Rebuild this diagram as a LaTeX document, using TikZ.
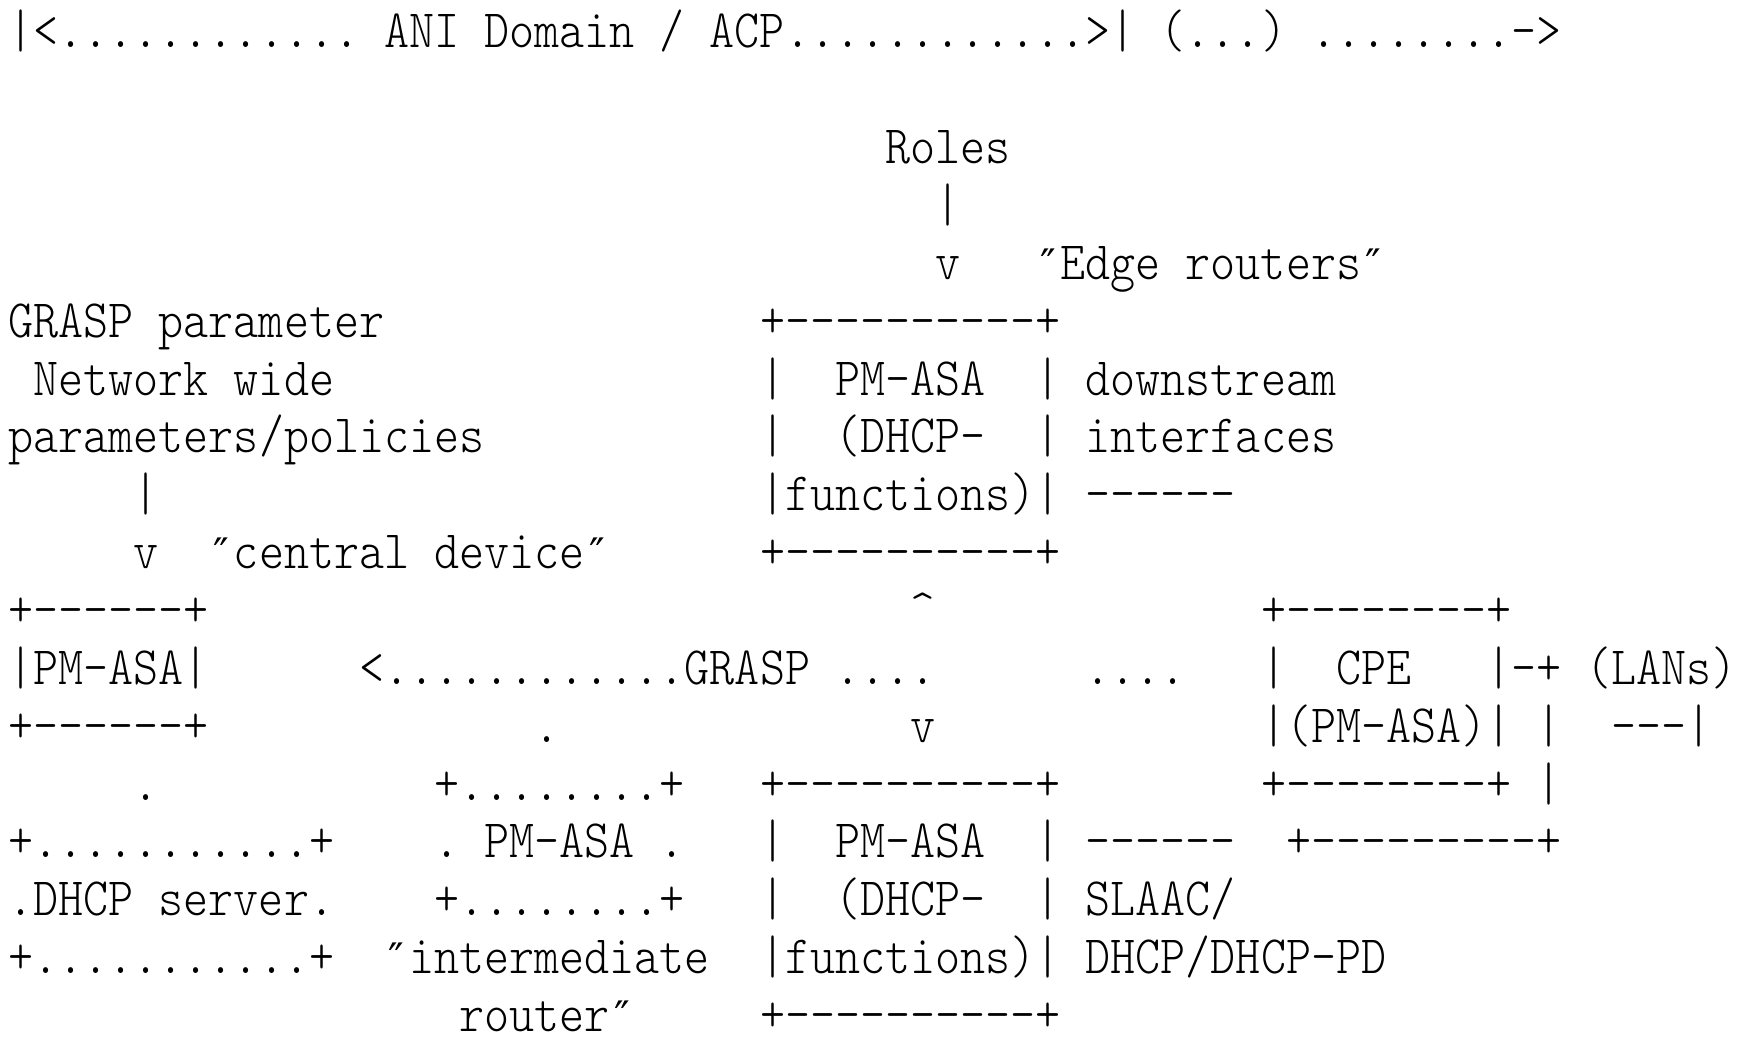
\documentclass[tikz,border=0pt]{standalone}
\usepackage{fontspec}
% narrow light serif typewriter face for the character grid
\newfontfamily\asciifont{lmmonolt10-regular.otf}[FakeStretch=0.8836]
\newfontfamily\qfont{DejaVu Sans}
% one character cell is 25.05pt wide, one line is 57.85pt high
\newcommand\txtat[4]{\node[txt] (#1) at ({8.5+25.05*(#2)},{48+57.85*(#3)}) {#4};}
\newcommand\qtat[3]{\node[txt] (#1) at ({8.5+25.05*(#2)},{48+57.85*(#3)}) {\makebox[25.05pt][c]{\qfont\fontsize{42}{50}\selectfont ″}};}
\tikzset{
  txt/.style={anchor=base west, inner sep=0pt, outer sep=0pt, text depth=0pt,
    font=\asciifont\fontsize{54}{60}\selectfont\frenchspacing}
}
\begin{document}
\begin{tikzpicture}[x=1pt,y=-1pt]
\fill[white] (0,0) rectangle (1743,1041);
\useasboundingbox (0,0) rectangle (1743,1041);

% domain banner
\txtat{ban}{0}{0}{|<............ ANI Domain / ACP............>|}
\txtat{banb}{46}{0}{(...)}
\txtat{banc}{52}{0}{........->}

% roles feeding the edge router
\txtat{roles}{35}{2}{Roles}
\txtat{rolesbar}{37}{3}{|}
\txtat{rolesv}{37}{4}{v}
\qtat{eq1}{41}{4}
\txtat{edge}{42}{4}{Edge routers}
\qtat{eq2}{54}{4}

% network wide parameters
\txtat{gp}{0}{5}{GRASP parameter}
\txtat{nw}{1}{6}{Network wide}
\txtat{pp}{0}{7}{parameters/policies}
\txtat{ppbar}{5}{8}{|}
\txtat{ppv}{5}{9}{v}
\qtat{cq1}{8}{9}
\txtat{cdev}{9}{9}{central device}
\qtat{cq2}{23}{9}

% upper edge router box
\txtat{eb1}{30}{5}{+––––––––––+}
\txtat{eb2l}{30}{6}{|}
\txtat{eb2}{33}{6}{PM-ASA}
\txtat{eb2r}{41}{6}{|}
\txtat{eb3l}{30}{7}{|}
\txtat{eb3}{33}{7}{(DHCP-}
\txtat{eb3r}{41}{7}{|}
\txtat{eb4}{30}{8}{|functions)|}
\txtat{eb5}{30}{9}{+––––––––––+}
\txtat{ds1}{43}{6}{downstream}
\txtat{ds2}{43}{7}{interfaces}
\txtat{ds3}{43}{8}{––––––}

% central device box
\txtat{cb1}{0}{10}{+––––––+}
\txtat{cb2}{0}{11}{|PM-ASA|}
\txtat{cb3}{0}{12}{+––––––+}

% GRASP flooding
\txtat{up}{36}{10}{\textasciicircum}
\txtat{gr1}{14}{11}{<............GRASP}
\txtat{gr2}{33}{11}{....}
\txtat{gr3}{43}{11}{....}
\txtat{dn}{36}{12}{v}
\txtat{gdot}{21}{12}{.}

% CPE box and LAN link
\txtat{cpe1}{50}{10}{+––––––––+}
\txtat{cpe2l}{50}{11}{|}
\txtat{cpe2}{53}{11}{CPE}
\txtat{cpe2r}{59}{11}{|-+}
\txtat{lans}{63}{11}{(LANs)}
\txtat{cpe3}{50}{12}{|(PM-ASA)|}
\txtat{lk1}{61}{12}{|}
\txtat{lans2}{64}{12}{–––|}
\txtat{cpe4}{50}{13}{+––––––––+}
\txtat{lk2}{61}{13}{|}
\txtat{lk3}{51}{14}{+–––––––––+}

% DHCP server
\txtat{sdot}{5}{13}{.}
\txtat{sv1}{0}{14}{+...........+}
\txtat{sv2}{0}{15}{.DHCP server.}
\txtat{sv3}{0}{16}{+...........+}

% intermediate router
\txtat{ir1}{17}{13}{+........+}
\txtat{ir2}{17}{14}{. PM-ASA .}
\txtat{ir3}{17}{15}{+........+}
\qtat{iq1}{15}{16}
\txtat{ir4}{16}{16}{intermediate}
\txtat{ir5}{18}{17}{router}
\qtat{iq2}{24}{17}

% lower edge router box
\txtat{lb1}{30}{13}{+––––––––––+}
\txtat{lb2l}{30}{14}{|}
\txtat{lb2}{33}{14}{PM-ASA}
\txtat{lb2r}{41}{14}{|}
\txtat{lb3l}{30}{15}{|}
\txtat{lb3}{33}{15}{(DHCP-}
\txtat{lb3r}{41}{15}{|}
\txtat{lb4}{30}{16}{|functions)|}
\txtat{lb5}{30}{17}{+––––––––––+}
\txtat{sl1}{43}{14}{––––––}
\txtat{sl2}{43}{15}{SLAAC/}
\txtat{sl3}{43}{16}{DHCP/DHCP-PD}
\end{tikzpicture}
\end{document}
